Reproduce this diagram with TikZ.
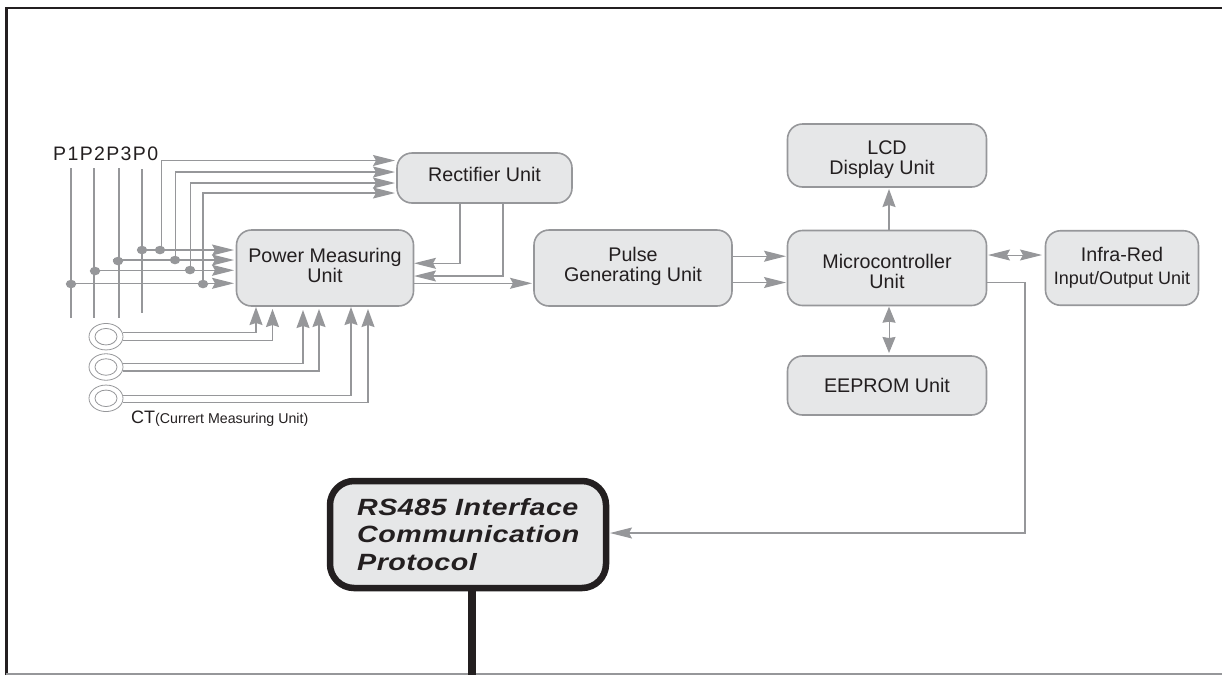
\documentclass[tikz,border=0pt]{standalone}
\usepackage{fontspec}
\setmainfont{Liberation Sans}
\newfontfamily\rsfont{Liberation Sans}[FakeStretch=1.22,LetterSpace=2]
\newfontfamily\pfont{Liberation Sans}[LetterSpace=7]
\usetikzlibrary{arrows.meta,shapes.geometric}
\definecolor{ln}{RGB}{150,151,154}
\definecolor{fillg}{RGB}{230,231,232}
\definecolor{txt}{RGB}{35,31,32}
\newcommand{\topstrut}[1]{\rule{0pt}{#1}}
\newcommand{\botstrut}[1]{\rule[-#1]{0pt}{1pt}}
\tikzset{
  unit/.style={draw=ln,line width=1.6pt,fill=fillg,rounded corners=15pt,inner sep=0pt,align=center,text=txt,font=\fontsize{19.7}{20}\selectfont},
  tipw/.style={draw=ln,line width=1.2pt,-{Stealth[length=22pt,width=11pt,inset=3pt,fill=ln]}},
  tipv/.style={draw=ln,line width=1.4pt,-{Stealth[length=18pt,width=13pt,inset=2pt,fill=ln]}},
  dotn/.style={ellipse,fill=ln,inner sep=0pt,minimum width=10.5pt,minimum height=8.5pt},
  pin/.style={draw=ln,line width=1.6pt},
}
\begin{document}
\begin{tikzpicture}[x=1pt,y=-1pt]
\useasboundingbox (0,0) rectangle (1222,675);
% frame
\coordinate (fbl) at (6.5,675); \coordinate (ftl) at (6.5,8); \coordinate (ftr) at (1222,8);
\draw[txt,line width=2.6pt] (fbl) -- (ftl) -- (ftr);
\draw[ln,line width=1.6pt] (6,674.2) -- (1222,674.2);
% units
\node[unit,minimum width=175pt,minimum height=50pt] (rect) at (484.5,178) {Rectifier Unit\botstrut{7pt}};
\node[unit,minimum width=177pt,minimum height=76pt] (pmu) at (325,268) {Power Measuring\\Unit\botstrut{6pt}};
\node[unit,minimum width=198pt,minimum height=76pt] (pulse) at (633,268) {Pulse\\Generating Unit\botstrut{7pt}};
\node[unit,minimum width=199pt,minimum height=75pt] (mcu) at (887,268) {\topstrut{22pt}Microcontroller\\Unit};
\node[unit,minimum width=199pt,minimum height=63pt] (lcd) at (887,155.5) {\topstrut{22pt}LCD\\Display Unit\hspace*{10pt}};
\node[unit,minimum width=199pt,minimum height=59pt] (eep) at (887,385.5) {EEPROM Unit};
\node[unit,minimum width=153pt,minimum height=74.5pt] (ir) at (1122,268) {Infra-Red\\[3pt]\fontsize{18}{20}\selectfont Input/Output Unit};
\node[draw=txt,line width=6.5pt,fill=fillg,rounded corners=24pt,minimum width=276pt,minimum height=107pt,inner sep=0pt] (rs) at (468,534.5) {};
\node[anchor=base west,align=left,inner sep=0pt,text=txt,font=\fontsize{23.5}{27.5}\rsfont\bfseries\itshape] (rstext) at (357,570) {RS485 Interface\\Communication\\Protocol};
% bus labels
\node[anchor=base west,inner sep=0pt,text=txt,font=\fontsize{19.5}{20}\pfont] (plab) at (53,160) {P1P2P3P0};
% bus vertical lines
\foreach \n/\x/\t/\b in {a/71/168/318,b/93.7/168/318,c/119/168/318,d/141.7/169/313}{
  \coordinate (\n t) at (\x,\t); \coordinate (\n b) at (\x,\b);
  \draw[pin] (\n t) -- (\n b);
}
% junction dots, left
\node[dotn] (j1) at (71,284) {};
\node[dotn] (j2) at (95,271) {};
\node[dotn] (j3) at (118,261) {};
\node[dotn] (j4) at (142,250) {};
% junction dots, right
\node[dotn] (k4) at (160,250) {};
\node[dotn] (k3) at (175,260) {};
\node[dotn] (k2) at (190,270) {};
\node[dotn] (k1) at (203,284) {};
% to power unit
\coordinate (p4) at (234,250); \coordinate (p3) at (234,260); \coordinate (p2) at (234,270.3); \coordinate (p1) at (234,283.3);
\draw[tipw] (j4) -- (p4);
\draw[tipw] (j3.west |- p3) -- (p3);
\draw[tipw] (j2.west |- p2) -- (p2);
\draw[tipw] (j1.west |- p1) -- (p1);
% to rectifier
\coordinate (r4) at (395,160.5); \coordinate (r3) at (395,172); \coordinate (r2) at (395,183); \coordinate (r1) at (395,193);
\draw[tipw] (k4) ++(1.5,0) -- (161.5,160.5) -- (r4);
\draw[tipw] (k3) ++(0.7,0) -- (175.7,172) -- (r3);
\draw[tipw] (k2) ++(0.8,0) -- (190.8,183) -- (r2);
\draw[tipw] (k1) -- (203,193) -- (r1);
% rectifier to power
\coordinate (ra) at (460,203); \coordinate (rb) at (503,203);
\coordinate (pa) at (414,263.3); \coordinate (pb) at (414,276);
\draw[tipw] (ra) -- (460,263.3) -- (pa);
\draw[tipw] (rb) -- (503,276) -- (pb);
% power to pulse
\draw[tipw] (413.5,283.3) -- (532,283.3);
% pulse to mcu
\draw[tipw] (732,256.2) -- (786,256.2);
\draw[tipw] (732,282.5) -- (786,282.5);
% mcu to lcd, eeprom, ir
\draw[tipv] (889,230) -- (889,189);
\draw[line width=1pt,draw=ln,{Stealth[length=16pt,width=13pt,inset=1pt,fill=ln]}-{Stealth[length=16pt,width=13pt,inset=1pt,fill=ln]}] (889,306.7) -- (889,353);
\draw[line width=1pt,draw=ln,{Stealth[length=22pt,width=11pt,inset=3pt,fill=ln]}-{Stealth[length=22pt,width=11pt,inset=3pt,fill=ln]}] (988,255) -- (1042,255);
% mcu to rs485
\draw[tipw] (987,282.5) -- (1025,282.5) -- (1025,533) -- (610,533);
% rs485 stem
\coordinate (stem) at (472,675);
\draw[txt,line width=7.5pt] (rs.south -| stem) -- (stem);
% CTs
\foreach \n/\y in {ca/336.7,cb/367,cc/398.3}{
  \node[draw=ln,line width=.8pt,ellipse,minimum width=34pt,minimum height=26.5pt,inner sep=0pt,fill=white] (\n) at (106,\y) {};
  \node[draw=ln,line width=.8pt,ellipse,minimum width=22pt,minimum height=16.5pt,inner sep=0pt] (\n i) at (106,\y) {};
}
\draw[tipv] (ca.east |- 0,332.5) -- (256,332.5) -- (256,307);
\draw[tipv] (ca.east |- 0,340.5) -- (272.5,340.5) -- (272.5,309);
\draw[tipv] (cb.east |- 0,363.3) -- (303,363.3) -- (303,310);
\draw[tipv] (cb.east |- 0,371) -- (319,371) -- (319,309);
\draw[tipv] (cc.east |- 0,395.3) -- (351,395.3) -- (351,307);
\draw[tipv] (cc.east |- 0,402.3) -- (368,402.3) -- (368,309);
% CT label
\node[anchor=base west,inner sep=0pt,text=txt,font=\fontsize{18}{20}\selectfont] (ctl) at (131,423) {CT\fontsize{14.2}{15}\selectfont(Currert Measuring Unit)};
\end{tikzpicture}
\end{document}
